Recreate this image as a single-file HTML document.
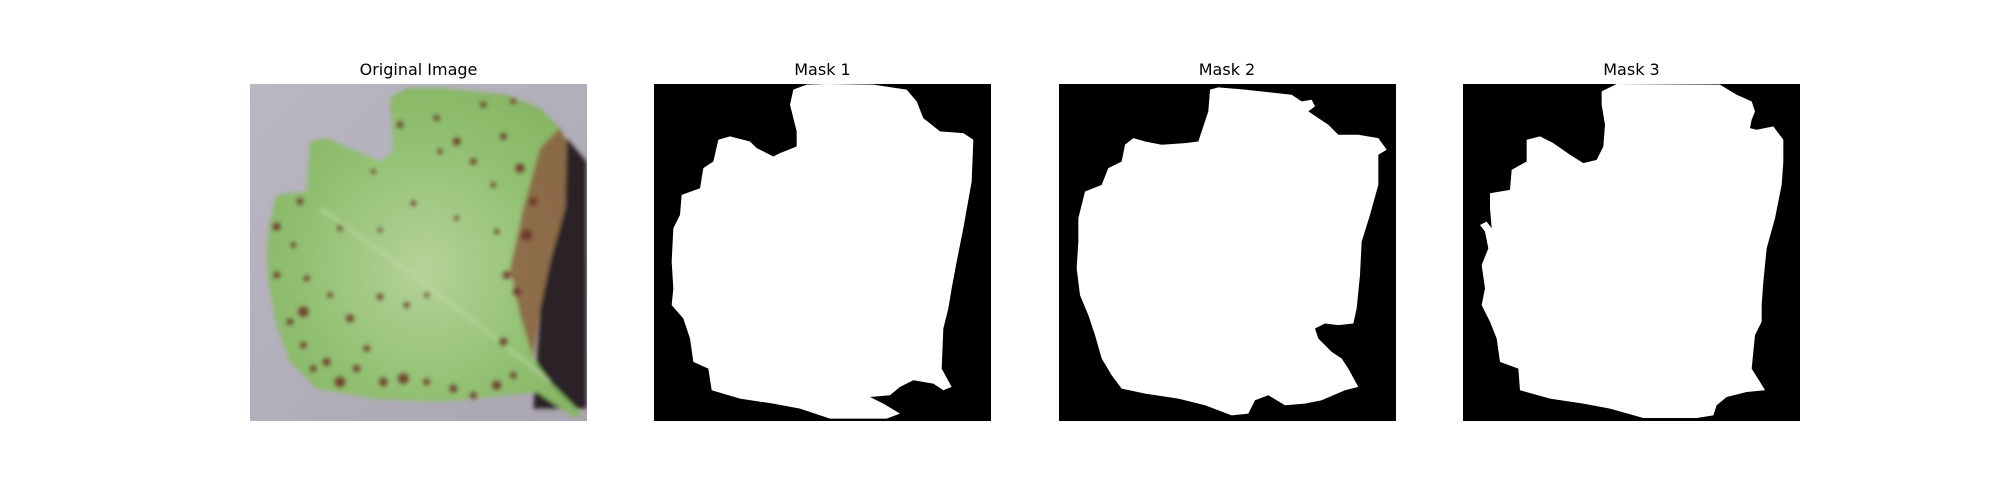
<!DOCTYPE html>
<html><head><meta charset="utf-8"><style>
html,body{margin:0;padding:0;background:#fff;}
svg{display:block}
text{font-family:"DejaVu Sans","Liberation Sans",sans-serif;font-size:16px;fill:#000}
</style></head><body>
<svg width="2000" height="500" viewBox="0 0 2000 500">
<text x="418.5" y="75" text-anchor="middle">Original Image</text>
<text x="822.5" y="75" text-anchor="middle">Mask 1</text>
<text x="1227" y="75" text-anchor="middle">Mask 2</text>
<text x="1631.5" y="75" text-anchor="middle">Mask 3</text>

<svg x="250" y="84" width="337" height="337" viewBox="30 28 1011 1009" preserveAspectRatio="none">
<defs><linearGradient id="bg" x1="0" y1="0" x2="1" y2="1"><stop offset="0" stop-color="#bab6c3"/><stop offset="1" stop-color="#aaa6b1"/></linearGradient>
<radialGradient id="lf" cx="0.5" cy="0.55" r="0.6"><stop offset="0" stop-color="#b5d29a"/><stop offset="0.6" stop-color="#94c274"/><stop offset="1" stop-color="#86b563"/></radialGradient>
<filter id="bl"><feGaussianBlur stdDeviation="6"/></filter></defs>
<rect x="30" y="28" width="1011" height="1009" fill="url(#bg)"/>
<g filter="url(#bl)">
<path d="M980,190 L1040,260 L1040,1000 L880,1000 L900,700 L930,560 L975,400 Z" fill="#2a2228"/>
<path d="M90,440 L110,360 L200,350 L210,200 L260,190 L420,260 L460,230 L450,70 L500,40 L600,40 L800,60 L900,100 L960,160 L980,200 L975,400 L930,560 L900,700 L880,850 L930,920 L1030,1020 L1000,1025 L890,950 L800,960 L600,980 L400,970 L230,940 L150,860 L110,750 L85,620 L80,530 Z" fill="url(#lf)"/>
<path d="M960,160 L980,200 L975,400 L930,560 L900,700 L880,850 L840,720 L810,580 L850,400 L900,220 Z" fill="#8a4838" opacity="0.7"/>
<path d="M240,400 Q600,650 930,920" stroke="#c8dcb0" stroke-width="8" fill="none" opacity="0.6"/>
<g fill="#6e3028" opacity="0.85">
<circle cx="110" cy="455" r="14"/><circle cx="180" cy="380" r="12"/><circle cx="160" cy="510" r="10"/><circle cx="110" cy="600" r="12"/><circle cx="200" cy="610" r="11"/><circle cx="190" cy="710" r="18"/><circle cx="150" cy="740" r="12"/><circle cx="270" cy="660" r="10"/><circle cx="330" cy="730" r="14"/><circle cx="420" cy="665" r="12"/><circle cx="500" cy="690" r="11"/><circle cx="190" cy="810" r="12"/><circle cx="260" cy="860" r="14"/><circle cx="300" cy="920" r="18"/><circle cx="350" cy="880" r="13"/><circle cx="430" cy="920" r="15"/><circle cx="490" cy="910" r="18"/><circle cx="560" cy="920" r="12"/><circle cx="640" cy="940" r="14"/><circle cx="700" cy="960" r="12"/><circle cx="770" cy="930" r="16"/><circle cx="820" cy="900" r="12"/><circle cx="300" cy="460" r="10"/><circle cx="420" cy="465" r="9"/><circle cx="520" cy="385" r="10"/><circle cx="480" cy="150" r="12"/><circle cx="590" cy="130" r="11"/><circle cx="650" cy="200" r="14"/><circle cx="700" cy="260" r="12"/><circle cx="730" cy="90" r="11"/><circle cx="790" cy="185" r="12"/><circle cx="760" cy="330" r="10"/><circle cx="650" cy="430" r="9"/><circle cx="770" cy="470" r="10"/><circle cx="800" cy="600" r="14"/><circle cx="790" cy="800" r="14"/><circle cx="560" cy="660" r="9"/><circle cx="600" cy="230" r="10"/><circle cx="400" cy="290" r="9"/><circle cx="820" cy="80" r="10"/>
<circle cx="840" cy="280" r="16"/><circle cx="860" cy="480" r="18"/><circle cx="880" cy="380" r="14"/><circle cx="830" cy="650" r="14"/><circle cx="220" cy="880" r="12"/><circle cx="380" cy="820" r="12"/>
</g>
</g>
</svg>

<svg x="654" y="84" width="337" height="337" viewBox="42 28 1011 1009" preserveAspectRatio="none">
<rect x="42" y="28" width="1011" height="1009" fill="#000"/>
<path fill="#fff" d="M460,45 L500,30 L560,28 L700,30 L800,45 L830,80 L850,130 L900,170 L970,175 L1000,195 L995,320 L970,460 L950,560 L935,640 L925,700 L910,760 L905,880 L935,935 L910,945 L880,925 L820,915 L780,935 L750,960 L690,965 L730,985 L780,1015 L740,1030 L570,1030 L480,1000 L400,985 L300,970 L215,945 L205,880 L160,860 L150,790 L130,730 L95,690 L100,640 L95,560 L100,460 L120,420 L125,360 L180,340 L190,280 L220,260 L235,195 L270,185 L330,200 L350,220 L400,245 L420,235 L470,215 L470,170 L450,90 Z"/>
</svg>

<svg x="1059" y="84" width="337" height="337" viewBox="42 28 1011 1009" preserveAspectRatio="none">
<rect x="42" y="28" width="1011" height="1009" fill="#000"/>
<path fill="#fff" d="M495,45 L520,38 L600,45 L740,60 L770,80 L800,75 L810,95 L790,110 L820,130 L850,150 L880,180 L940,180 L1000,190 L1025,225 L1000,240 L1000,330 L975,420 L950,500 L945,600 L935,700 L925,745 L880,750 L840,745 L810,760 L820,790 L860,830 L890,850 L910,880 L940,935 L900,945 L830,975 L780,985 L720,990 L670,960 L630,975 L610,1015 L560,1020 L480,990 L400,970 L300,955 L230,940 L200,900 L170,850 L150,780 L130,720 L105,660 L95,580 L100,500 L100,430 L120,350 L170,330 L190,280 L230,260 L240,210 L265,190 L300,200 L350,210 L420,205 L460,200 L470,170 L490,110 Z"/>
</svg>

<svg x="1463" y="84" width="337" height="337" viewBox="39 28 1011 1009" preserveAspectRatio="none">
<rect x="39" y="28" width="1011" height="1009" fill="#000"/>
<path fill="#fff" d="M455,50 L500,28 L810,30 L860,60 L905,80 L915,110 L905,135 L900,160 L920,165 L970,155 L1000,195 L1000,260 L995,330 L975,430 L950,520 L940,620 L935,690 L935,740 L915,780 L905,880 L930,920 L945,945 L890,950 L830,965 L800,990 L790,1020 L740,1028 L580,1028 L480,1000 L400,985 L300,970 L210,945 L205,880 L150,860 L140,790 L120,740 L95,690 L105,640 L95,570 L115,520 L105,470 L90,450 L110,440 L125,460 L120,400 L120,355 L180,345 L185,285 L230,260 L230,195 L270,185 L310,205 L360,240 L400,265 L440,255 L460,215 L465,150 L455,90 Z"/>
</svg>
</svg>
</body></html>
